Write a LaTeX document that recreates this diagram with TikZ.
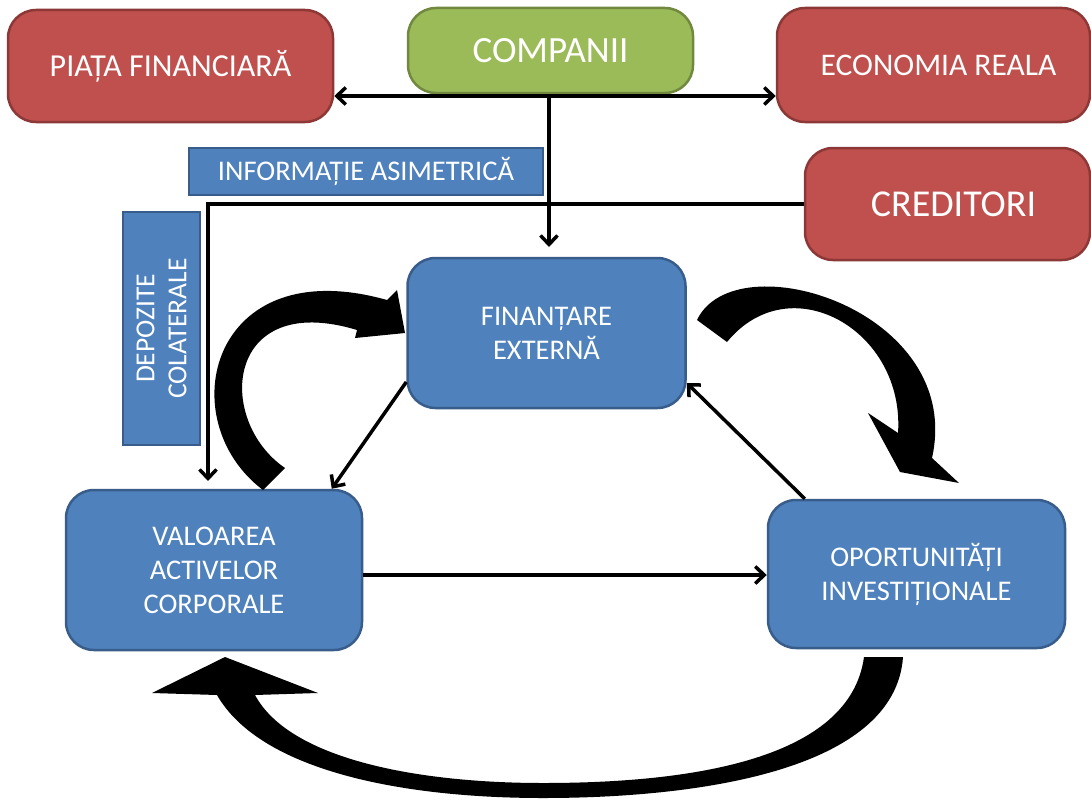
\documentclass[tikz,border=0pt]{standalone}
\usepackage{fontspec}
\setmainfont{Carlito}
\usetikzlibrary{arrows.meta,calc}
\definecolor{bfill}{HTML}{4F81BD}
\definecolor{bdraw}{HTML}{385D8A}
\definecolor{rfill}{HTML}{C0504D}
\definecolor{rdraw}{HTML}{8C3836}
\definecolor{gfill}{HTML}{9BBB59}
\definecolor{gdraw}{HTML}{71893F}
\begin{document}
\begin{tikzpicture}[x=1pt,y=-1pt,
  box/.style={rectangle, rounded corners=28pt, line width=2.5pt, text=white, align=center, inner sep=0pt},
  bluebox/.style={box, fill=bfill, draw=bdraw, font=\fontsize{28.5}{34}\selectfont},
  redbox/.style={box, fill=rfill, draw=rdraw},
  greenbox/.style={box, fill=gfill, draw=gdraw},
  flatbox/.style={rectangle, fill=bfill, draw=bdraw, line width=2pt, text=white, align=center, inner sep=0pt, font=\fontsize{27.5}{32}\selectfont},
  conn/.style={line width=3.5pt, -{Straight Barb[length=9pt,width=17pt]}},
  conn2/.style={line width=3.5pt, {Straight Barb[length=9pt,width=17pt]}-{Straight Barb[length=9pt,width=17pt]}},
  blockarrow/.style={fill=black}]
\useasboundingbox (0,0) rectangle (1091,800);
\fill[white] (0,0) rectangle (1091,800);

% boxes
\node[redbox, minimum width=325pt, minimum height=112pt, font=\fontsize{32}{38}\selectfont] (piata) at (170.5,66) {PIAȚA FINANCIARĂ};
\node[greenbox, minimum width=285pt, minimum height=85pt, font=\fontsize{37}{44}\selectfont] (comp) at (550.5,50.5) {COMPANII};
\node[redbox, minimum width=313pt, minimum height=114pt, font=\fontsize{31.5}{38}\selectfont] (econ) at (933.5,65) {\hspace*{10pt}ECONOMIA REALA};
\node[redbox, minimum width=285pt, minimum height=112pt, font=\fontsize{38}{45}\selectfont] (cred) at (947.5,204) {\hspace*{12pt}CREDITORI};
\node[flatbox, minimum width=354pt, minimum height=47pt, font=\fontsize{28.5}{34}\selectfont] (info) at (366,171) {INFORMAȚIE ASIMETRICĂ};
\node[flatbox, rotate=90, minimum width=233pt, minimum height=77pt] (dep) at (161.5,328.5) {DEPOZITE\\COLATERALE};
\node[bluebox, minimum width=278pt, minimum height=150pt] (fin) at (546.5,333) {FINANȚARE\\EXTERNĂ};
\node[bluebox, minimum width=296pt, minimum height=160pt] (val) at (214,570) {VALOAREA\\ACTIVELOR\\CORPORALE};
\node[bluebox, minimum width=297pt, minimum height=148pt] (opp) at (916.5,574) {OPORTUNITĂȚI\\INVESTIȚIONALE};

% thin connectors
\coordinate (hub) at (549,96);
\coordinate (finin) at (549,247);
\coordinate (valin) at (208,481);
\draw[conn2] (hub -| piata.east) -- (hub -| econ.west);
\draw[conn] (hub) -- (finin);
\draw[conn] (cred.west) -| (valin);
\draw[conn] ($(fin.west)+(0,49)$) -- ($(val.north west)+(267,0)$);
\draw[conn] ($(opp.north west)+(38,0)$) -- ($(fin.east)+(0,50)$);
\draw[conn] ($(val.east)+(0,5)$) -- ($(opp.west)+(0,1)$);

% thick curved block arrows
\fill[blockarrow] (263,490) .. controls (170,420) and (210,250) .. (387,300)
  -- (397,290) -- (405,333) -- (355,338) -- (357,330)
  .. controls (225,290) and (215,420) .. (285,468) -- cycle;
\fill[blockarrow] (697,320) .. controls (735,240) and (965,310) .. (932,458)
  -- (959,483) -- (900,472) -- (868,413) -- (898,433)
  .. controls (905,330) and (790,265) .. (727,342) -- cycle;
\fill[blockarrow] (903,657) .. controls (895,770) and (700,798) .. (543,798)
  .. controls (400,798) and (260,770) .. (217,695)
  -- (152,693) -- (225,657) -- (318,693) -- (255,695)
  .. controls (290,760) and (420,783) .. (543,783)
  .. controls (690,783) and (850,760) .. (864,657) -- cycle;
\end{tikzpicture}
\end{document}
